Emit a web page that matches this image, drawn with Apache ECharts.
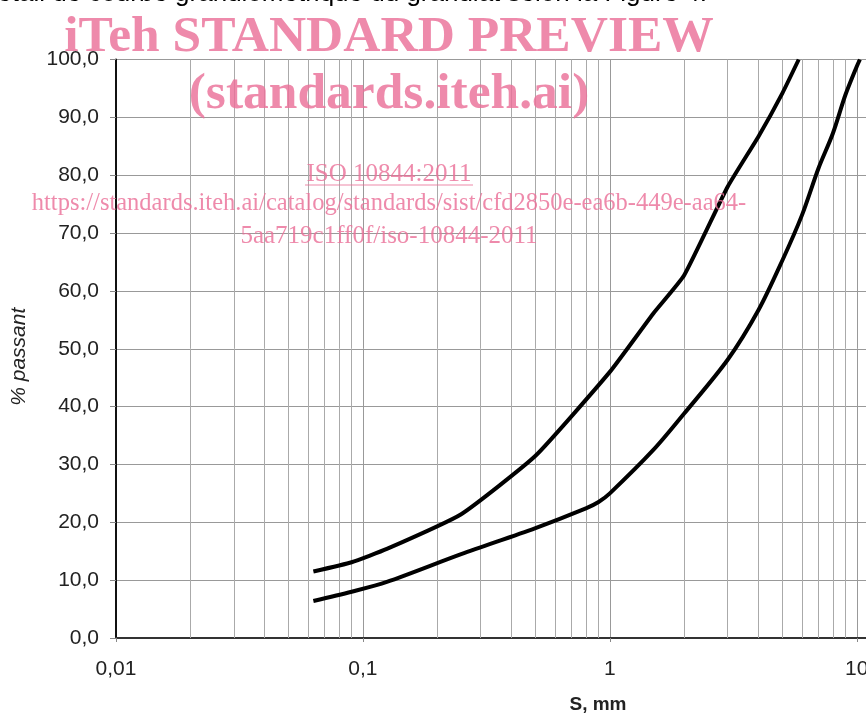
<!DOCTYPE html>
<html lang="fr">
<head>
    <meta charset="UTF-8">
    <title>Courbe granulométrique</title>
    <script src="https://cdn.jsdelivr.net/npm/echarts@6/dist/echarts.min.js"></script>
    <style>
        html, body { margin: 0; padding: 0; background: #fff; }
    </style>
</head>
<body>
<div id="main" style="width: 866px;height:715px;"></div>

<script type="text/javascript">
    // tamis (mm) et % passant
    var sizesUpper = [0.063, 0.09, 0.125, 0.25, 0.5, 1, 1.5, 2, 3, 4, 5, 5.82];
    var passUpper  = [11.5, 13.1, 15.4, 21.4, 31.5, 46.0, 56.1, 62.7, 78.0, 86.7, 94.2, 100];
    var sizesLower = [0.063, 0.09, 0.125, 0.25, 0.5, 0.8, 0.9, 1, 1.5, 2, 3, 4, 5, 6, 7, 8, 9, 10, 10.3];
    var passLower  = [6.4, 8.0, 9.7, 14.5, 19.0, 22.4, 23.5, 25.0, 32.5, 38.8, 48.1, 56.7, 65.3, 73.1, 81.2, 87.2, 93.9, 98.8, 100];

    var xMajor = [0.01, 0.1, 1, 10];
    var xMinor = [0.02, 0.03, 0.04, 0.05, 0.06, 0.07, 0.08, 0.09,
                  0.2, 0.3, 0.4, 0.5, 0.6, 0.7, 0.8, 0.9,
                  2, 3, 4, 5, 6, 7, 8, 9];

    var pink = 'rgba(234, 112, 152, 0.82)';

    function zip(xs, ys) {
        var out = [];
        for (var i = 0; i < xs.length; i++) out.push([xs[i], ys[i]]);
        return out;
    }

    var myChart = echarts.init(document.getElementById('main'));

    var option = {
        animation: false,
        grid: {
            left: 116,
            right: 0,
            top: 59.5,
            bottom: 77,
            containLabel: false,
            outerBoundsMode: 'none'
        },
        xAxis: {
            type: 'log',
            logBase: 10,
            min: 0.01,
            max: 10.9,
            axisLine: { show: true, lineStyle: { color: '#333', width: 2 } },
            axisTick: { show: true, length: 4, lineStyle: { color: '#888' } },
            splitLine: { show: true, lineStyle: { color: '#999', width: 1 } },
            axisLabel: {
                margin: 21,
                fontFamily: 'Liberation Sans',
                fontSize: 21,
                color: '#222',
                formatter: function (v) {
                    for (var i = 0; i < xMajor.length; i++) {
                        if (Math.abs(v - xMajor[i]) < 1e-9) return String(xMajor[i]).replace('.', ',');
                    }
                    return '';
                }
            }
        },
        yAxis: {
            type: 'value',
            min: 0,
            max: 100,
            interval: 10,
            name: '% passant',
            nameLocation: 'middle',
            nameRotate: 90,
            nameGap: 86,
            nameTextStyle: {
                fontFamily: 'Liberation Sans',
                fontStyle: 'italic',
                fontSize: 21,
                color: '#222',
                padding: [0, 16, 0, 0]
            },
            axisLine: { show: true, lineStyle: { color: '#111', width: 2 } },
            axisTick: { show: true, inside: false, length: 6, lineStyle: { color: '#888' } },
            splitLine: { show: true, lineStyle: { color: '#999', width: 1 } },
            axisLabel: {
                margin: 17,
                fontFamily: 'Liberation Sans',
                fontSize: 21,
                color: '#222',
                formatter: function (v) { return v.toFixed(1).replace('.', ','); }
            }
        },
        series: [
            {
                // lignes secondaires de la grille logarithmique
                type: 'line',
                data: [],
                silent: true,
                z: 1,
                markLine: {
                    silent: true,
                    symbol: ['none', 'none'],
                    label: { show: false },
                    lineStyle: { type: 'solid', color: '#aaa', width: 1 },
                    data: xMinor.map(function (v) { return { xAxis: v }; })
                }
            },
            {
                type: 'line',
                data: zip(sizesUpper, passUpper),
                showSymbol: false,
                smooth: 0.15,
                z: 5,
                lineStyle: { color: '#000', width: 4 }
            },
            {
                type: 'line',
                data: zip(sizesLower, passLower),
                showSymbol: false,
                smooth: 0.3,
                z: 5,
                lineStyle: { color: '#000', width: 4 }
            }
        ],
        graphic: [
            {
                type: 'text',
                style: {
                    text: 'détail de courbe granulométrique du granulat selon la Figure 4.',
                    x: 707, y: 7,
                    textAlign: 'right',
                    textVerticalAlign: 'bottom',
                    font: '26px "Liberation Sans"',
                    fill: '#000'
                }
            },
            {
                type: 'text',
                z: 100,
                style: {
                    text: 'S, mm',
                    x: 598, y: 705,
                    textAlign: 'center',
                    textVerticalAlign: 'middle',
                    font: 'bold 19px "Liberation Sans"',
                    fill: '#222'
                }
            },
            {
                type: 'text',
                z: 100,
                style: {
                    text: 'iTeh STANDARD PREVIEW',
                    x: 389, y: 38,
                    textAlign: 'center',
                    textVerticalAlign: 'middle',
                    font: 'bold 51.5px "Liberation Serif"',
                    fill: pink
                }
            },
            {
                type: 'text',
                z: 100,
                style: {
                    text: '(standards.iteh.ai)',
                    x: 389, y: 95,
                    textAlign: 'center',
                    textVerticalAlign: 'middle',
                    font: 'bold 51.5px "Liberation Serif"',
                    fill: pink
                }
            },
            {
                type: 'text',
                z: 100,
                style: {
                    text: 'ISO 10844:2011',
                    x: 389, y: 174,
                    textAlign: 'center',
                    textVerticalAlign: 'middle',
                    font: '25px "Liberation Serif"',
                    fill: pink
                }
            },
            {
                type: 'line',
                z: 100,
                shape: { x1: 305, y1: 185, x2: 473, y2: 185 },
                style: { stroke: pink, lineWidth: 1.2 }
            },
            {
                type: 'text',
                z: 100,
                style: {
                    text: 'https://standards.iteh.ai/catalog/standards/sist/cfd2850e-ea6b-449e-aa64-',
                    x: 389, y: 204,
                    textAlign: 'center',
                    textVerticalAlign: 'middle',
                    font: '24.5px "Liberation Serif"',
                    fill: pink
                }
            },
            {
                type: 'text',
                z: 100,
                style: {
                    text: '5aa719c1ff0f/iso-10844-2011',
                    x: 389, y: 236,
                    textAlign: 'center',
                    textVerticalAlign: 'middle',
                    font: '25px "Liberation Serif"',
                    fill: pink
                }
            }
        ]
    };

    myChart.setOption(option);
</script>
</body>
</html>
